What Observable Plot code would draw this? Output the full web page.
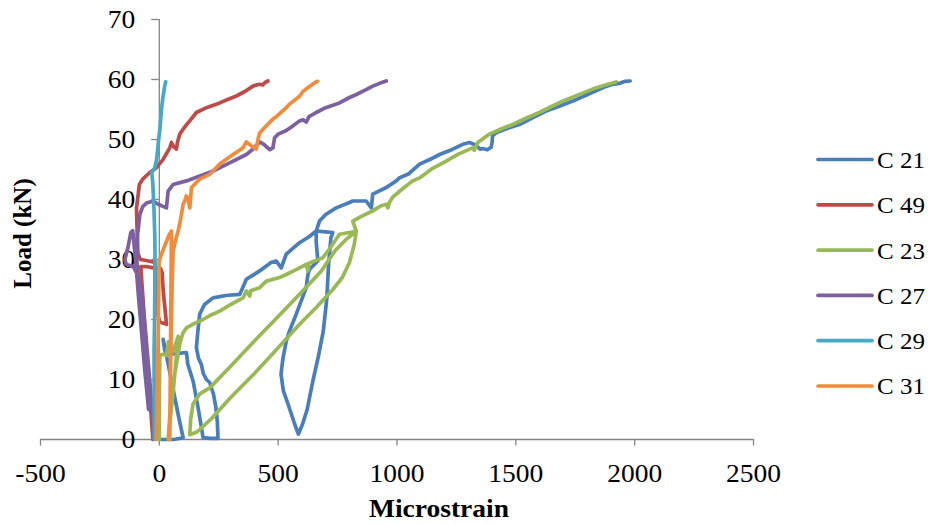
<!DOCTYPE html>
<html><head><meta charset="utf-8">
<script src="https://cdn.jsdelivr.net/npm/d3@7"></script>
<script src="https://cdn.jsdelivr.net/npm/@observablehq/plot@0.6"></script>
<style>body{margin:0;background:#fff;}</style>
</head><body><div id="chart"></div>
<script>
const seriesNames = ["C 21", "C 49", "C 23", "C 27", "C 29", "C 31"];
const seriesColors = ["#4A7EBB", "#BE4B48", "#98B954", "#7D60A0", "#46AAC5", "#F08C3C"];
const xTicks = [-500, 0, 500, 1000, 1500, 2000, 2500];
const yTicks = [0, 10, 20, 30, 40, 50, 60, 70];

// [microstrain, load kN]
const c21 = [[0,0],[60,0],[100,0.3],[80,4],[55,9],[35,13],[16,16.7],[22,15],[30,14.2],[70,14.3],[114,14.5],[120,12.5],[142,9.75],[160,6],[175,2.5],[184,0.3],[215,0.2],[247,0.2],[244,3],[238,5.3],[228,7.5],[212,9.5],[198,10],[185,11],[177,12.5],[165,13.5],[156,15.3],[162,18],[170,20.9],[190,22.5],[226,23.6],[280,24],[338,24.2],[345,24.75],[366,26.7],[422,28.1],[470,29.5],[492,29.75],[513,28.6],[534,30.9],[590,32.8],[630,33.8],[660,34.75],[700,34.6],[730,34.5],[722,33.6],[712,29.2],[705,23.6],[690,18.1],[670,14],[646,9.75],[622,5],[602,2.5],[585,0.9],[570,2.5],[545,5.5],[522,8.1],[512,10.9],[520,13.5],[534,16.4],[548,18.1],[576,20.9],[618,25.3],[625,27.5],[632,28.4],[667,29.75],[660,33],[660,34.75],[674,36.4],[700,37.5],[744,38.6],[800,39.5],[814,39.75],[870,39.75],[892,38.6],[898,40.9],[955,42],[997,43.1],[1010,43.6],[1050,44.3],[1095,45.9],[1140,46.7],[1179,47.5],[1230,48.3],[1277,49.2],[1305,49.5],[1330,49.1],[1350,48.4],[1360,48.5],[1380,48.3],[1396,48.7],[1400,49.5],[1402,50.6],[1417,51.1],[1460,51.8],[1515,52.5],[1570,53.6],[1627,54.75],[1680,55.5],[1739,56.4],[1790,57.3],[1837,58.1],[1870,58.7],[1907,59.2],[1940,59.4],[1960,59.7],[1981,59.75]];
const c49 = [[-27,0],[-38,6],[-50,12],[-60,18],[-68,23],[-75,27],[-78,28.8],[-50,28.8],[-25,28.6],[5,28.5],[12,27.8],[16,25],[22,22.5],[27,20.5],[30,19.2],[15,19.4],[2,19.6],[-8,21],[-14,25],[-18,29.5],[-50,29.8],[-80,30],[-90,31],[-93,34],[-95,37],[-96,38.6],[-90,40.5],[-84,42.5],[-70,43.4],[-40,44.5],[-12,45.3],[16,46.7],[44,48.6],[51,49.5],[60,48.8],[72,48.4],[76,49.5],[86,50.9],[105,52],[128,53.1],[156,54.5],[198,55.3],[254,56.1],[290,56.7],[324,57.25],[360,58],[394,58.9],[420,59.2],[435,59.1],[445,59.5],[457,59.75]];
const c23 = [[0,0],[0,7],[2,14],[15,14.2],[30,14],[38,16.3],[45,14.3],[55,14.5],[65,15.5],[79,17.2],[70,13],[58,8],[45,3],[37,0],[48,6],[65,11],[78,14],[86,16],[100,17.8],[114,18.6],[150,19.4],[184,20],[220,20.8],[254,21.4],[300,22.5],[352,23.6],[366,24.75],[380,23.9],[385,24.8],[422,25.3],[450,26.4],[506,27],[534,27.5],[580,28.4],[618,29.2],[625,28.1],[630,29.4],[688,30.3],[720,32],[758,34.2],[800,34.5],[829,34.7],[820,32.5],[800,29.5],[770,27],[730,25],[660,22],[590,19.2],[500,15.3],[400,11],[300,7],[220,3.5],[160,1.3],[128,0.8],[132,3.5],[142,5.9],[170,7.6],[212,8.6],[300,12.2],[400,16.4],[500,20.5],[590,24.2],[680,28],[740,31.5],[790,33.5],[829,34.7],[814,36.4],[850,37.2],[898,38.1],[930,38.9],[955,39.2],[961,38.6],[968,39.5],[982,40.4],[1030,42],[1066,43.1],[1095,43.6],[1150,45.2],[1207,46.4],[1260,47.6],[1318,48.6],[1325,48.2],[1340,49.5],[1389,50.9],[1440,51.8],[1487,52.5],[1540,53.5],[1599,54.5],[1650,55.5],[1697,56.4],[1760,57.4],[1823,58.4],[1870,59],[1921,59.6]];
const c27 = [[-22,0],[-32,6],[-45,12],[-58,18],[-70,23],[-85,27],[-110,28.8],[-140,29.2],[-145,30],[-132,32],[-120,34.5],[-112,34.8],[-105,32],[-98,29],[-88,24],[-75,18],[-60,11],[-45,5],[-55,12],[-70,20],[-85,25],[-95,30],[-92,34],[-82,37.5],[-70,38.8],[-54,39.4],[-26,39.75],[-5,39.2],[30,38.6],[37,41.4],[58,42.5],[114,43.1],[170,43.9],[226,44.75],[296,46.1],[366,47.5],[394,48.4],[422,49.6],[440,49.2],[464,48.3],[478,48.6],[485,50.3],[500,50.9],[534,51.5],[560,52.2],[590,53.1],[604,53.3],[618,52.9],[630,53.8],[660,54.5],[700,55.3],[758,56.1],[800,57],[829,57.5],[870,58.3],[898,58.9],[930,59.4],[955,59.75]];
const c29 = [[-20,0],[-22,8],[-22,15],[-20,20],[-19,25],[-18,30],[-19,34],[-23,39],[-28,43],[-32,44.5],[-20,45.2],[-12,46.5],[-8,48],[-3,50],[3,52],[9,55],[15,57],[19,58],[23,59],[27,59.6]];
const c31 = [[-12,0],[-8,10],[-4,20],[-1,29.7],[10,31],[25,32.5],[40,34],[51,34.75],[50,30],[48,20],[46,10],[44,0],[46,8],[50,18],[54,26],[58,31.4],[70,33.5],[79,34.75],[86,36],[93,37.5],[100,39.2],[107,39.75],[114,40.6],[121,40],[128,38.6],[132,40.5],[135,42],[150,42.6],[170,43.4],[212,44.2],[254,45.9],[310,47.5],[352,48.6],[366,49.6],[385,49],[408,48.4],[415,50],[422,51.1],[450,52.3],[478,53.4],[492,53.8],[534,55.3],[548,55.9],[590,57.2],[604,58],[630,58.8],[660,59.6],[666,59.7]];

const seriesData = [c21, c49, c23, c27, c29, c31];
const rows = [];
seriesData.forEach((arr, i) => arr.forEach(([x, y]) => rows.push({series: seriesNames[i], strain: x, load: y})));

const axisColor = "#868686";
const FS = 25;
const svg = Plot.plot({
  width: 933, height: 524,
  marginLeft: 40, marginRight: 180, marginTop: 19, marginBottom: 85,
  x: {domain: [-500, 2500], axis: null},
  y: {domain: [0, 70], axis: null},
  color: {domain: seriesNames, range: seriesColors},
  style: {fontFamily: "'Liberation Serif', 'Times New Roman', serif", fontSize: FS + "px", background: "#fff", overflow: "visible"},
  marks: [
    Plot.ruleY([0], {x1: -500, x2: 2500, stroke: axisColor, strokeWidth: 1.3}),
    Plot.ruleX([0], {y1: 0, y2: 70, stroke: axisColor, strokeWidth: 1.3}),
    Plot.ruleX(xTicks, {x: d => d, y1: 0, y2: -1.1, stroke: axisColor, strokeWidth: 1.3}),
    Plot.ruleY(yTicks, {y: d => d, x1: -32, x2: 0, stroke: axisColor, strokeWidth: 1.3}),
    Plot.text(yTicks, {x: 0, y: d => d, text: d => String(d), dx: -24, textAnchor: "end", fontSize: FS, fill: "#000", className: "stretch"}),
    Plot.text(xTicks, {x: d => d, y: 0, text: d => String(d), dy: 34, fontSize: FS, fill: "#000", className: "stretch"}),
    Plot.text(["Load (kN)"], {frameAnchor: "left", textAnchor: "middle", rotate: -90, dx: -18, dy: 4, fontSize: FS, fontWeight: "bold", fill: "#000"}),
    Plot.text(["Microstrain"], {frameAnchor: "bottom", textAnchor: "middle", dx: 42, dy: 77, fontSize: FS, fontWeight: "bold", fill: "#000", className: "stretch"}),
    ...seriesNames.map(name => Plot.line(rows.filter(r => r.series === name), {
      x: "strain", y: "load", stroke: "series", strokeWidth: 3.7, strokeLinejoin: "round", strokeLinecap: "round"
    }))
  ]
});

// legend
const lg = d3.select(svg).append("g").attr("class", "stretch-legend");
seriesNames.forEach((name, i) => {
  const y = 159.5 + i * 45.3;
  lg.append("line").attr("x1", 818).attr("x2", 872).attr("y1", y).attr("y2", y)
    .attr("stroke", seriesColors[i]).attr("stroke-width", 3.7).attr("stroke-linecap", "round");
  lg.append("text").attr("x", 877).attr("y", y).attr("dy", "0.35em")
    .attr("text-anchor", "start").attr("font-size", 24).attr("fill", "#000").text(name);
});
document.getElementById("chart").appendChild(svg);

// mimic the slightly wide glyphs of the reference
function stretch(sel, k) {
  sel.each(function() {
    const L = this.getComputedTextLength();
    if (L > 0) { this.setAttribute("textLength", (L * k).toFixed(1)); this.setAttribute("lengthAdjust", "spacingAndGlyphs"); }
  });
}
stretch(d3.select(svg).selectAll("g.stretch text"), 1.1);
stretch(d3.select(svg).selectAll("g.stretch-legend text"), 1.04);
</script>
</body></html>
